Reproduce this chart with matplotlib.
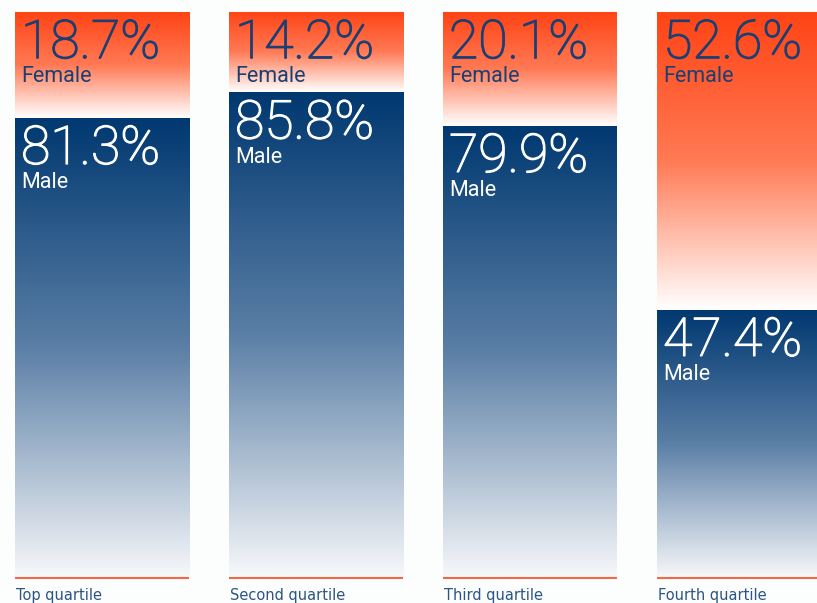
import matplotlib
matplotlib.use('Agg')
import matplotlib.pyplot as plt
import matplotlib.patheffects as pe
import numpy as np
from matplotlib.colors import LinearSegmentedColormap

quartiles = ['Top quartile', 'Second quartile', 'Third quartile', 'Fourth quartile']
female = [18.7, 14.2, 20.1, 52.6]
male = [81.3, 85.8, 79.9, 47.4]

bg = '#fcfdfd'
female_cmap = LinearSegmentedColormap.from_list('f', ['#ffffff', '#ff7a55', '#ff4415'])
male_cmap = LinearSegmentedColormap.from_list('m', ['#f7f8fa', '#5b7fa6', '#003870'])
text_blue = '#1a3f73'
label_blue = '#2a5585'

W, H = 817, 603
fig = plt.figure(figsize=(W / 100, H / 100), dpi=100, facecolor=bg)
# bars: left edge 15px, pitch 214px, width 174px; baseline 578px, top 12px
pitch = 214
bw = 174 / pitch
x0 = -102 / pitch
ax = fig.add_axes([0, (H - 578) / H, 1, 566 / H])
ax.set_xlim(x0, x0 + W / pitch)
ax.set_ylim(0, 100)
ax.set_facecolor(bg)
ax.axis('off')

grad = np.linspace(0, 1, 256).reshape(-1, 1)

def big(x, y, s, c):
    ax.text(x, y, s, color=c, fontsize=38.5, fontfamily='Roboto', fontweight='light',
            va='top', ha='left', zorder=3,
            path_effects=[pe.withStroke(linewidth=0.9, foreground=c)])

for i, (q, f, m) in enumerate(zip(quartiles, female, male)):
    left, right = i - bw / 2, i + bw / 2
    # male segment (bottom)
    ax.imshow(grad, cmap=male_cmap, extent=(left, right, 0, m), origin='lower',
              aspect='auto', interpolation='bicubic', zorder=1)
    # female segment (top)
    ax.imshow(grad, cmap=female_cmap, extent=(left, right, m, m + f), origin='lower',
              aspect='auto', interpolation='bicubic', zorder=1)

    tx = left + 6 / pitch
    big(tx, 100 - 1.0, f'{f:.1f}%', text_blue)
    ax.text(tx, 100 - 9.6, 'Female', color=text_blue, fontsize=15.5, fontfamily='Roboto',
            va='top', ha='left', zorder=3)
    big(tx, m - 1.0, f'{m:.1f}%', 'white')
    ax.text(tx, m - 9.6, 'Male', color='white', fontsize=15.5, fontfamily='Roboto',
            va='top', ha='left', zorder=3)

    ax.plot([left, right], [0, 0], color='#f26a45', lw=1.5, solid_capstyle='butt',
            clip_on=False, zorder=4)
    ax.text(left + 1 / pitch, -1.7, q, color=label_blue, fontsize=10.5, fontfamily='DejaVu Sans',
            va='top', ha='left', clip_on=False)

fig.savefig('out.png', dpi=100, facecolor=bg)
